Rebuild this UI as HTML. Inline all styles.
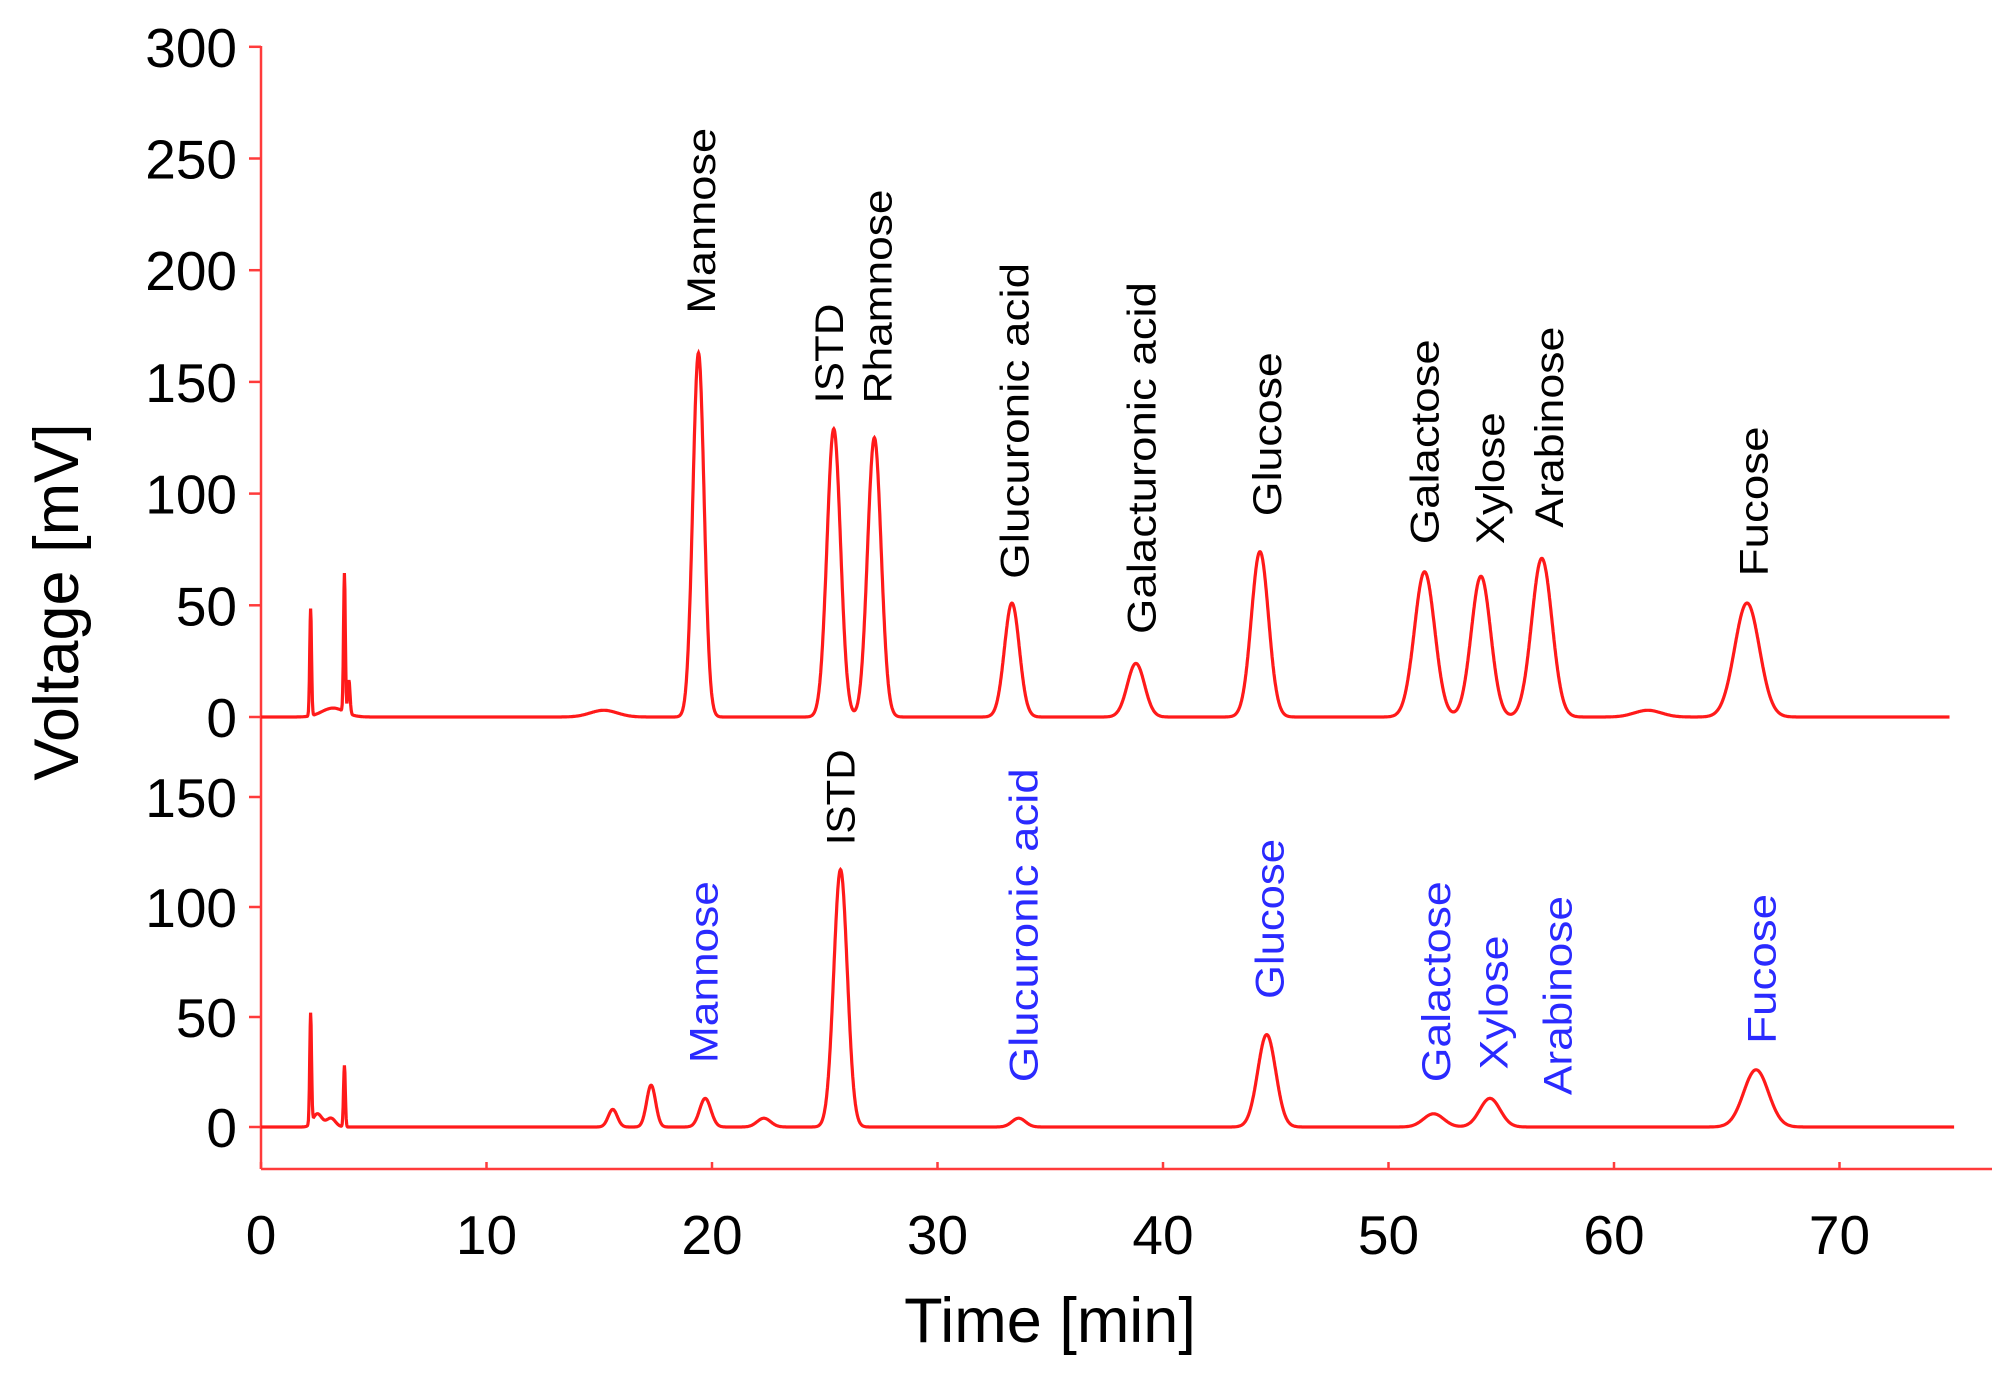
<!DOCTYPE html>
<html><head><meta charset="utf-8"><style>
html,body{margin:0;padding:0;background:#fff;}
svg{display:block;font-family:"Liberation Sans",Arial,sans-serif;}
</style></head><body>
<svg id="s" width="1998" height="1374" xmlns="http://www.w3.org/2000/svg">
<g stroke="#ff3b3b" stroke-width="2.5" fill="none">
<line x1="261" y1="46" x2="261" y2="1169"/>
<line x1="261" y1="1169" x2="1992" y2="1169"/>
</g>
<g id="ticks" stroke="#ff3b3b" stroke-width="2.5"></g>
<g id="lab" font-size="55" fill="#000"></g>
<path id="p1" fill="none" stroke="#ff1a1a" stroke-width="3.2"/>
<path id="p2" fill="none" stroke="#ff1a1a" stroke-width="3.2"/>
<g id="names" font-size="40"></g>
<text x="1050" y="1342" font-size="63" text-anchor="middle">Time [min]</text>
<text transform="translate(78,602) rotate(-90)" font-size="63" text-anchor="middle">Voltage [mV]</text>
</svg>
<script>
var NS="http://www.w3.org/2000/svg";
function el(p,n,a,t){var e=document.createElementNS(NS,n);for(var k in a)e.setAttribute(k,a[k]);if(t!=null)e.textContent=t;p.appendChild(e);return e;}
var X=function(t){return 261+t*22.55;};
var Y1=function(v){return 717-v*2.234;};
var Y2=function(v){return 1127-v*2.2;};
var tk=document.getElementById('ticks'),lb=document.getElementById('lab');
for(var i=0;i<=6;i++){var y=Y1(i*50);el(tk,'line',{x1:249,y1:y,x2:261,y2:y});el(lb,'text',{x:237,y:y+20,'text-anchor':'end'},String(i*50));}
for(var i=0;i<=3;i++){var y=Y2(i*50);el(tk,'line',{x1:249,y1:y,x2:261,y2:y});el(lb,'text',{x:237,y:y+20,'text-anchor':'end'},String(i*50));}
for(var i=0;i<=7;i++){var x=X(i*10);el(tk,'line',{x1:x,y1:1162,x2:x,y2:1169});el(lb,'text',{x:x,y:1254,'text-anchor':'middle'},String(i*10));}
function g(t,c,h,s){var d=(t-c)/s;return h*Math.exp(-0.5*d*d);}
var P1=[[2.2,48,0.04],[3.7,62,0.04],[3.9,15,0.05],[3.2,4,0.5],[15.2,3,0.6],[19.4,163,0.25],[25.4,129,0.3],[27.2,125,0.3],[33.3,51,0.33],[38.8,24,0.38],[44.3,74,0.38],[51.6,65,0.45],[54.1,63,0.43],[56.8,71,0.45],[61.5,3,0.6],[65.9,51,0.55]];
var P2=[[2.2,50,0.04],[2.5,6,0.2],[3.1,4,0.2],[3.7,28,0.04],[15.6,8,0.2],[17.3,19,0.2],[19.7,13,0.25],[22.3,4,0.3],[25.7,117,0.3],[33.6,4,0.3],[44.6,42,0.4],[52.0,6,0.45],[54.5,13,0.45],[66.3,26,0.55]];
function path(P,Y,tmax){var d='';for(var t=0;t<=tmax;t+=0.02){var v=0;for(var k=0;k<P.length;k++)v+=g(t,P[k][0],P[k][1],P[k][2]);d+=(d?'L':'M')+X(t).toFixed(1)+' '+Y(v).toFixed(1);}return d;}
document.getElementById('p1').setAttribute('d',path(P1,Y1,74.9));
document.getElementById('p2').setAttribute('d',path(P2,Y2,75.1));
var f=1.2808,nm=document.getElementById('names');
var L=[["Mannose",548,100,245,0],["ISTD",648,237,315,0],["Rhamnose",686,148,315,0],["Glucuronic acid",793,205,452,0],["Galacturonic acid",892,220,495,0],["Glucose",990,275,403,0],["Galactose",1113,265,425,0],["Xylose",1164,322,425,0],["Arabinose",1210,255,412,0],["Fucose",1370,333,450,0],
["Mannose",550,688,830,1],["ISTD",657,585,660,0],["Glucuronic acid",800,600,845,1],["Glucose",992,655,780,1],["Galactose",1122,688,845,1],["Xylose",1167,730,835,1],["Arabinose",1217,700,855,1],["Fucose",1376,698,815,1]];
L.forEach(function(l){var x=l[1]*f+13,y=l[3]*f,len=(l[3]-l[2])*f;
el(nm,'text',{transform:'translate('+x.toFixed(1)+','+y.toFixed(1)+') rotate(-90)',fill:l[4]?'#2a2aff':'#000',textLength:len.toFixed(0),lengthAdjust:'spacingAndGlyphs'},l[0]);});
</script>
</body></html>
